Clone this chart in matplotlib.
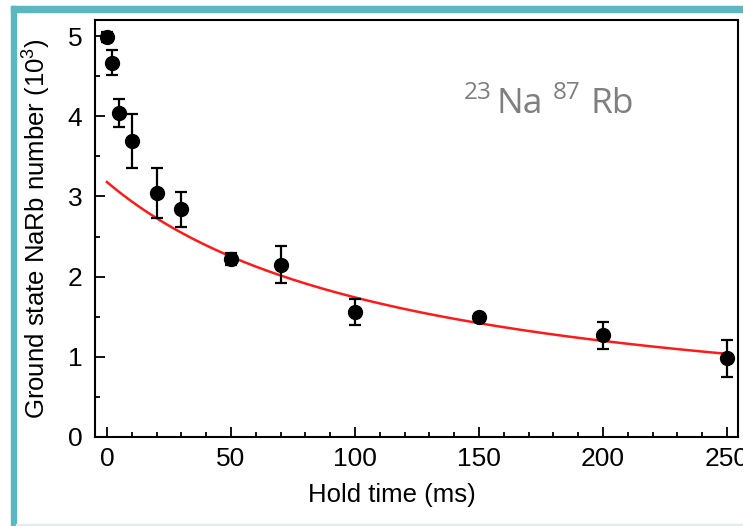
import numpy as np
import matplotlib
matplotlib.use("Agg")
import matplotlib.pyplot as plt
from matplotlib.patches import Rectangle
from matplotlib.ticker import MultipleLocator

# Data
hold_time = [0, 2, 5, 10, 20, 30, 50, 70, 100, 150, 200, 250]
number = [4.99, 4.67, 4.04, 3.69, 3.04, 2.84, 2.22, 2.15, 1.56, 1.50, 1.27, 0.98]
error = [0.06, 0.16, 0.17, 0.34, 0.31, 0.22, 0.07, 0.23, 0.16, 0.03, 0.17, 0.23]

# Two-body loss fit: N(t) = N0 / (1 + N0*beta*t)
fit_N0 = 3.18
fit_beta = 0.0026

W, H = 743, 526
plt.rcParams["mathtext.fontset"] = "custom"
plt.rcParams["mathtext.rm"] = "Liberation Sans"
fig = plt.figure(figsize=(W / 100, H / 100), dpi=100)
fig.patch.set_facecolor("white")

ax = fig.add_axes([95 / W, 1 - 437 / H, (738 - 95) / W, (437 - 20) / H])

t = np.linspace(0, 250, 300)
ax.plot(t, fit_N0 / (1 + fit_N0 * fit_beta * t), color="#ff1a1a", lw=1.8, zorder=2)
ax.errorbar(hold_time, number, yerr=error, fmt="o", color="black",
            markersize=10, ecolor="black", elinewidth=1.6, capsize=4.5,
            capthick=1.6, zorder=3)

ax.set_xlim(-4.8, 254.4)
ax.set_ylim(0, 5.2)
ax.xaxis.set_major_locator(MultipleLocator(50))
ax.xaxis.set_minor_locator(MultipleLocator(10))
ax.yaxis.set_major_locator(MultipleLocator(1))
ax.yaxis.set_minor_locator(MultipleLocator(0.5))
ax.tick_params(which="both", direction="in", top=False, right=False,
               width=1.3, labelsize=19)
ax.tick_params(which="major", length=7)
ax.tick_params(axis="x", which="major", pad=7.5)
ax.tick_params(axis="y", which="major", pad=9)
ax.tick_params(which="minor", length=3.5)
for lbl in ax.get_xticklabels() + ax.get_yticklabels():
    lbl.set_family("Liberation Sans")
for s in ax.spines.values():
    s.set_linewidth(1.5)

ax.set_xlabel("Hold time (ms)", fontsize=18.5, family="Liberation Sans")
ax.set_ylabel("Ground state NaRb number (10$^3$)", fontsize=18.5,
              family="Liberation Sans")
ax.xaxis.set_label_coords((392 - 95) / 643, (437 - 483) / 417)
ax.yaxis.set_label_coords((52 - 95) / 643, 0.5)

# isotope annotation
gray = "#7f7f7f"
base_y = 1 - 113 / H
fig.text(464 / W, 1 - 99 / H, "23", fontsize=17.5, color=gray, family="Open Sans", va="baseline")
fig.text(496 / W, base_y, "Na", fontsize=25.5, color=gray, family="Open Sans", va="baseline")
fig.text(553 / W, 1 - 99 / H, "87", fontsize=17.5, color=gray, family="Open Sans", va="baseline")
fig.text(590 / W, base_y, "Rb", fontsize=25.5, color=gray, family="Open Sans", va="baseline")

# teal frame
teal = "#5bb8c0"
fig.patches.append(Rectangle((11 / W, 0), 5 / W, 1 - 6 / H, transform=fig.transFigure,
                             color=teal, zorder=10))
fig.patches.append(Rectangle((11 / W, 1 - 12 / H), 1 - 11 / W, 6 / H,
                             transform=fig.transFigure, color=teal, zorder=10))
fig.patches.append(Rectangle((16 / W, 0), 1, 2 / H, transform=fig.transFigure,
                             color="#ddeff1", zorder=10))

fig.savefig("out.png", dpi=100)
